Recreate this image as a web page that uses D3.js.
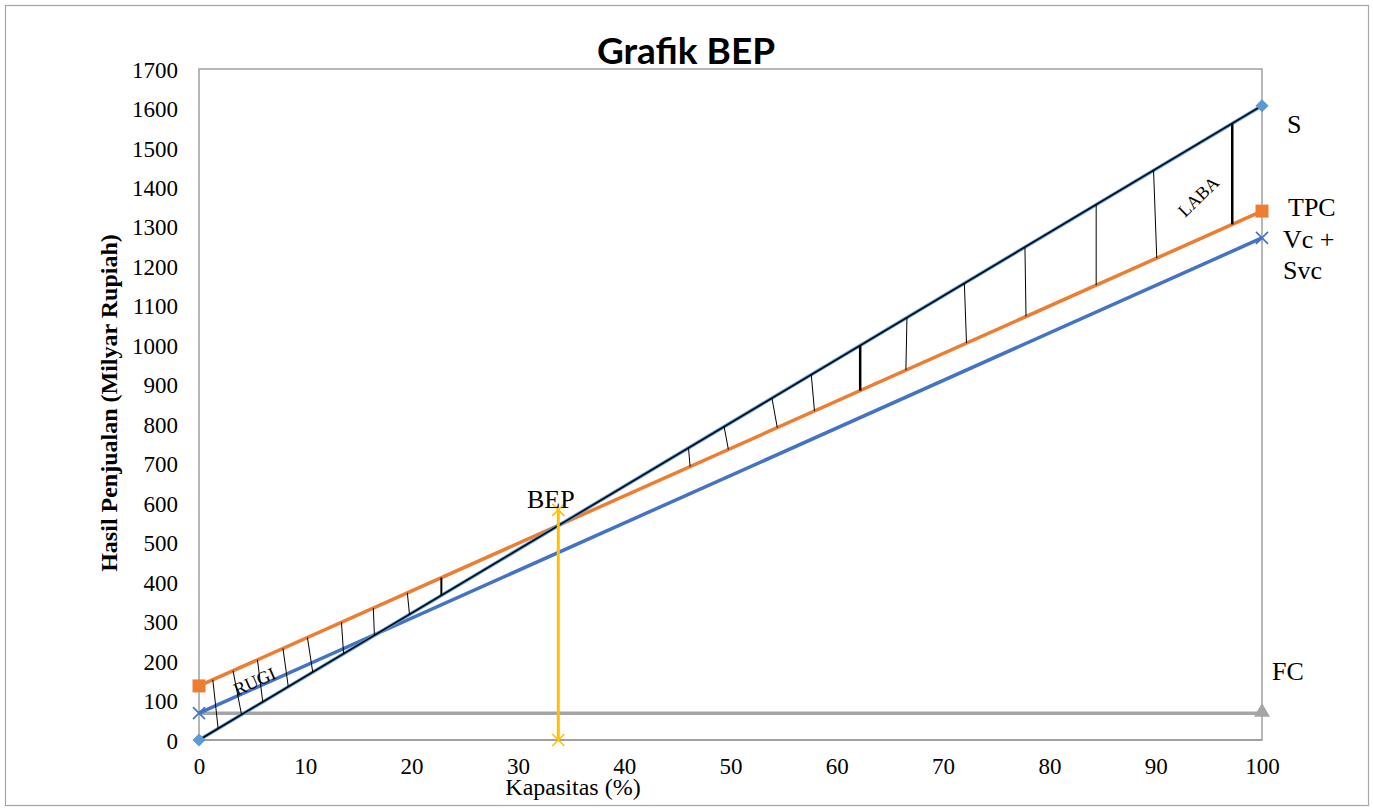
<!DOCTYPE html>
<html>
<head>
<meta charset="utf-8">
<script src="https://cdn.jsdelivr.net/npm/d3@7"></script>
<style>
  body { margin: 0; background: #fff; }
  text { font-family: "Liberation Serif", "Times New Roman", serif; fill: #000; }
</style>
</head>
<body>
<div id="chart"></div>
<script>
// ukuran gambar
const width = 1373;
const height = 809;
const margin = {left: 199, right: 110, top: 69, bottom: 69};

// data garis (kapasitas %, nilai milyar rupiah)
const kapasitas = [0, 100];
const sales = [0, 1607];          // S
const tpc = [137, 1340];          // TPC
const vcSvc = [68, 1272];         // Vc + Svc
const fc = [68, 68];              // FC
const bepX = [33.8, 33.8];
const bepY = [0, 583];

const yTicks = d3.range(0, 1701, 100);
const xTicks = d3.range(0, 101, 10);

// garis arsir: ujung di TPC dan ujung di S (dalam %)
const rugiTop = [1.3, 3.2, 5.5, 7.9, 10.2, 13.4, 16.4, 19.6, 22.8];
const rugiBottom = [1.8, 4.0, 6.0, 8.4, 10.7, 13.6, 16.5, 19.8, 22.8];
const labaTop = [46.05, 49.4, 53.9, 57.6, 62.2, 66.6, 72.0, 77.7, 84.4, 89.8, 97.2];
const labaBottom = [46.2, 49.8, 54.4, 57.9, 62.2, 66.5, 72.2, 77.8, 84.4, 90.1, 97.2];
const thickHatch = [22.8, 62.2, 97.2];

var svg = d3.select("#chart").append("svg")
    .attr("width", width).attr("height", height);

var x = d3.scaleLinear().domain([0, 100]).range([margin.left, width - margin.right - 1]);
var y = d3.scaleLinear().domain([0, 1700]).range([height - margin.bottom, margin.top]);

// fungsi nilai garis
function lineVal(arr, k) {
    return arr[0] + (arr[1] - arr[0]) * k / 100;
}

// bingkai luar
svg.append("rect")
    .attr("x", 5.5).attr("y", 5.5)
    .attr("width", width - 4 - 6).attr("height", height - 3 - 6)
    .attr("fill", "none").attr("stroke", "#a6a6a6").attr("stroke-width", 1.2);

// bingkai plot
svg.append("rect")
    .attr("x", x(0)).attr("y", y(1700))
    .attr("width", x(100) - x(0)).attr("height", y(0) - y(1700))
    .attr("fill", "none").attr("stroke", "#a0a0a0").attr("stroke-width", 1.5);

svg.append("line")
    .attr("x1", x(0)).attr("x2", x(100))
    .attr("y1", y(0)).attr("y2", y(0))
    .attr("stroke", "#a0a0a0").attr("stroke-width", 2);

// sumbu
var yAxis = svg.append("g")
    .attr("transform", "translate(" + (x(0) - 21) + ",0)")
    .call(d3.axisLeft(y).tickValues(yTicks).tickFormat(d3.format("d")).tickSize(0).tickPadding(0));
yAxis.attr("font-family", null).attr("font-size", null);
yAxis.select(".domain").remove();
yAxis.selectAll("text")
    .style("font-family", "Liberation Serif")
    .style("font-size", "23px")
    .attr("dy", "0.35em");

var xAxis = svg.append("g")
    .attr("transform", "translate(0," + (y(0) + 18) + ")")
    .call(d3.axisBottom(x).tickValues(xTicks).tickFormat(d3.format("d")).tickSize(0).tickPadding(0));
xAxis.attr("font-family", null).attr("font-size", null);
xAxis.select(".domain").remove();
xAxis.selectAll("text")
    .style("font-family", "Liberation Serif")
    .style("font-size", "23px")
    .attr("dy", "0.71em");

// garis seri
var line = d3.line().x(d => x(d[0])).y(d => y(d[1]));

function drawSeries(vals, color, w) {
    svg.append("path")
        .datum(kapasitas.map((k, i) => [k, vals[i]]))
        .attr("d", line)
        .attr("fill", "none")
        .attr("stroke", color)
        .attr("stroke-width", w);
}

drawSeries(fc, "#a5a5a5", 3.5);
drawSeries(vcSvc, "#4472c4", 3.5);
drawSeries(tpc, "#ed7d31", 3.5);
drawSeries(sales, "#5b9bd5", 3.5);
drawSeries(sales, "#000", 1.5);

// garis BEP
svg.append("path")
    .datum(bepX.map((k, i) => [k, bepY[i]]))
    .attr("d", line)
    .attr("fill", "none")
    .attr("stroke", "#ffc000")
    .attr("stroke-width", 3);

// arsir rugi & laba
var hatch = svg.append("g");
rugiTop.forEach(function (k, i) {
    hatch.append("line")
        .attr("x1", x(k)).attr("y1", y(lineVal(tpc, k)))
        .attr("x2", x(rugiBottom[i])).attr("y2", y(lineVal(sales, rugiBottom[i])))
        .attr("stroke", "#000")
        .attr("stroke-width", thickHatch.includes(k) ? 2 : 1);
});
labaTop.forEach(function (k, i) {
    hatch.append("line")
        .attr("x1", x(k)).attr("y1", y(lineVal(sales, k)))
        .attr("x2", x(labaBottom[i])).attr("y2", y(lineVal(tpc, labaBottom[i])))
        .attr("stroke", "#000")
        .attr("stroke-width", thickHatch.includes(k) ? 2.5 : 1);
});

// penanda
function cross(g, cx, cy, r, color, w) {
    g.append("path")
        .attr("d", "M" + (cx - r) + "," + (cy - r) + "L" + (cx + r) + "," + (cy + r) +
            "M" + (cx - r) + "," + (cy + r) + "L" + (cx + r) + "," + (cy - r))
        .attr("stroke", color).attr("stroke-width", w).attr("fill", "none");
}

var marks = svg.append("g");
// FC segitiga
marks.append("path")
    .attr("d", d3.symbol().type(d3.symbolTriangle).size(110)())
    .attr("transform", "translate(" + x(100) + "," + (y(fc[1]) - 1) + ")")
    .attr("fill", "#a5a5a5");
// Vc + Svc silang
kapasitas.forEach((k, i) => cross(marks, x(k), y(vcSvc[i]), 6, "#4472c4", 1.6));
// TPC kotak
kapasitas.forEach(function (k, i) {
    marks.append("rect")
        .attr("x", x(k) - 6.5).attr("y", y(tpc[i]) - 6.5)
        .attr("width", 13).attr("height", 13)
        .attr("fill", "#ed7d31");
});
// S belah ketupat
kapasitas.forEach(function (k, i) {
    marks.append("path")
        .attr("d", d3.symbol().type(d3.symbolDiamond2).size(110)())
        .attr("transform", "translate(" + x(k) + "," + y(sales[i]) + ")")
        .attr("fill", "#5b9bd5");
});
// BEP silang
bepX.forEach((k, i) => cross(marks, x(k), y(bepY[i]), 6, "#ffc000", 1.6));

// teks
svg.append("text")
    .attr("x", 686).attr("y", 64)
    .attr("text-anchor", "middle")
    .style("font-family", "Lato, 'Open Sans', sans-serif")
    .style("font-weight", "bold")
    .style("font-size", "37px")
    .text("Grafik BEP");

svg.append("text")
    .attr("transform", "translate(117,403) rotate(-90)")
    .attr("text-anchor", "middle")
    .style("font-weight", "bold")
    .style("font-size", "24px")
    .text("Hasil Penjualan (Milyar Rupiah)");

svg.append("text")
    .attr("x", 573).attr("y", 795)
    .attr("text-anchor", "middle")
    .style("font-size", "24px")
    .text("Kapasitas (%)");

var labels = [
    {t: "S", x: 1287, y: 133},
    {t: "TPC", x: 1288, y: 216},
    {t: "Vc +", x: 1283, y: 248},
    {t: "Svc", x: 1283, y: 279},
    {t: "FC", x: 1272, y: 680},
    {t: "BEP", x: 527, y: 508}
];
labels.forEach(function (d) {
    svg.append("text")
        .attr("x", d.x).attr("y", d.y)
        .style("font-size", "26px")
        .text(d.t);
});

svg.append("text")
    .attr("transform", "translate(237,696) rotate(-24)")
    .style("font-size", "18px")
    .text("RUGI");

svg.append("text")
    .attr("transform", "translate(1185,218) rotate(-44)")
    .style("font-size", "18px")
    .text("LABA");
</script>
</body>
</html>
